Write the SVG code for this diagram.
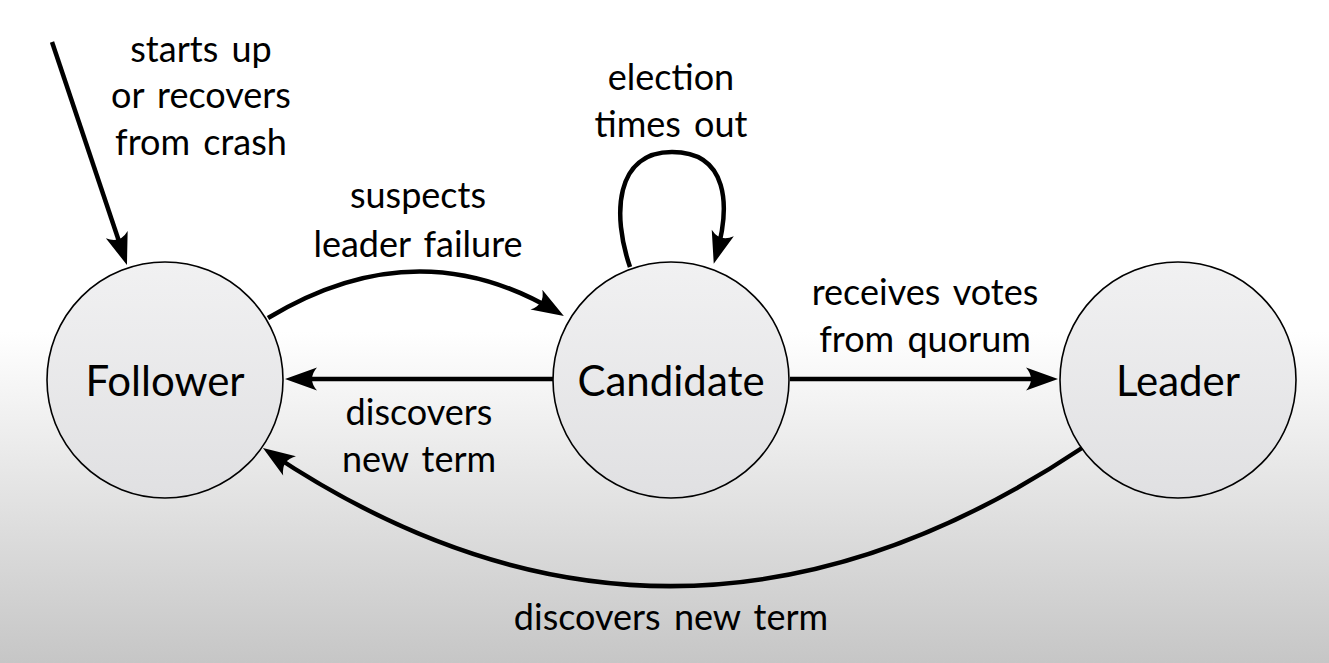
<svg xmlns="http://www.w3.org/2000/svg" width="1329" height="663" viewBox="0 0 1329 663">
<defs>
<linearGradient id="bg" x1="0" y1="0" x2="0" y2="1">
<stop offset="0" stop-color="#ffffff"/>
<stop offset="0.5" stop-color="#ffffff"/>
<stop offset="1" stop-color="#c6c6c6"/>
</linearGradient>
<linearGradient id="nodefill" x1="0" y1="0" x2="0" y2="1">
<stop offset="0" stop-color="#f1f1f2"/>
<stop offset="1" stop-color="#e0e0e2"/>
</linearGradient>
<marker id="arr" markerUnits="userSpaceOnUse" viewBox="-26 -14 36 28" markerWidth="36" markerHeight="28" refX="0" refY="0" orient="auto">
<path d="M8,0 L-24,-11.5 Q-14,0 -24,11.5 Z" fill="#000"/>
</marker>
<style>
.node{fill:url(#nodefill);stroke:#000;stroke-width:1.6}
.nlabel{font-family:Lato,"Open Sans",sans-serif;font-size:42px;fill:#000;text-anchor:middle}
.elabel{font-family:Lato,"Open Sans",sans-serif;font-size:36px;fill:#000;text-anchor:middle;word-spacing:4px}
.edge{fill:none;stroke:#000;stroke-width:4.5;marker-end:url(#arr)}
</style>
</defs>
<rect x="0" y="0" width="1329" height="663" fill="url(#bg)"/>
<g id="follower">
<circle class="node" cx="165" cy="380" r="118"/>
<text class="nlabel" x="165" y="396">Follower</text>
</g>
<g id="candidate">
<circle class="node" cx="671" cy="380" r="118"/>
<text class="nlabel" x="671" y="396">Candidate</text>
</g>
<g id="leader">
<circle class="node" cx="1178" cy="380" r="118"/>
<text class="nlabel" x="1178" y="396">Leader</text>
</g>
<g id="connectors">
<path class="edge" d="M52,42 L124.4,257.4"/>
<path class="edge" d="M268,318 Q417,228 557,312"/>
<path class="edge" d="M630,267 C612,215 615,152 672,152 C728,152 731,205 716,256"/>
<path class="edge" d="M553,379 L293,379"/>
<path class="edge" d="M790,379 L1050,379"/>
<path class="edge" d="M1082,448 Q672,722 269.6,452.5"/>
</g>
<g id="labels">
<text class="elabel" x="201" y="62">starts up</text>
<text class="elabel" x="201" y="108">or recovers</text>
<text class="elabel" x="201" y="155">from crash</text>
<text class="elabel" x="671" y="90">election</text>
<text class="elabel" x="671" y="137">times out</text>
<text class="elabel" x="418" y="208">suspects</text>
<text class="elabel" x="418" y="257">leader failure</text>
<text class="elabel" x="419" y="425">discovers</text>
<text class="elabel" x="419" y="472">new term</text>
<text class="elabel" x="925" y="305">receives votes</text>
<text class="elabel" x="925" y="352">from quorum</text>
<text class="elabel" x="671" y="630">discovers new term</text>
</g>
</svg>
